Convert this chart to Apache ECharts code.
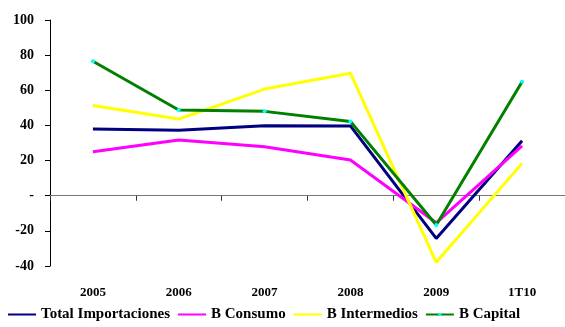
<!DOCTYPE html>
<html>
<head>
<meta charset="utf-8">
<script src="https://cdn.jsdelivr.net/npm/echarts@6/dist/echarts.min.js"></script>
<style>html,body{margin:0;padding:0;background:#fff}#c{width:565px;height:327px}</style>
</head>
<body>
<div id="c"></div>
<script>
const categories = ['2005', '2006', '2007', '2008', '2009', '1T10'];
const totalImportaciones = [38.0, 37.2, 39.8, 39.7, -24.3, 31.3];
const bConsumo = [25.0, 31.7, 27.9, 20.3, -15.4, 28.3];
const bIntermedios = [51.4, 43.6, 60.7, 69.7, -37.9, 18.4];
const bCapital = [76.5, 48.8, 48.0, 42.3, -16.7, 64.9];
const seriesNames = ['Total Importaciones', 'B Consumo', 'B Intermedios', 'B Capital'];

const font = 'Liberation Serif';
const chart = echarts.init(document.getElementById('c'));
function line(name, data, color, marker) {
  return {
    name: name, type: 'line', data: data, xAxisIndex: 0,
    symbol: marker ? 'circle' : 'none',
    symbolSize: marker ? 4 : 0,
    showSymbol: !!marker,
    lineStyle: { color: color, width: 3 },
    itemStyle: { color: marker ? '#00FFFF' : color, borderWidth: 0 },
    emphasis: { disabled: true },
    animation: false
  };
}
chart.setOption({
  animation: false,
  grid: { left: 50, top: 20, width: 515, height: 246, containLabel: false, outerBoundsMode: 'none' },
  legend: {
    left: 7, top: 307, itemWidth: 28, itemHeight: 4, itemGap: 7, padding: 0,
    textStyle: { fontFamily: font, fontWeight: 'bold', fontSize: 15, color: '#000' },
    data: seriesNames.map((n, i) => i < 3 ? { name: n, itemStyle: { opacity: 0 } } : { name: n })
  },
  xAxis: [{
    type: 'category', data: categories, boundaryGap: true, position: 'bottom',
    axisLine: { show: false, onZero: false },
    axisTick: { show: false },
    axisLabel: { margin: 20, fontFamily: font, fontWeight: 'bold', fontSize: 13, color: '#000' },
    splitLine: { show: false }
  }, {
    type: 'category', data: categories, boundaryGap: true, position: 'bottom',
    axisLine: { show: true, onZero: true, lineStyle: { color: '#777', width: 1 } },
    axisTick: { show: true, length: 5, lineStyle: { color: '#333' } },
    axisLabel: { show: false },
    splitLine: { show: false }
  }],
  yAxis: {
    type: 'value', min: -40, max: 100, interval: 20,
    axisLine: { show: true, lineStyle: { color: '#000', width: 1 } },
    axisTick: { show: true, length: 5, lineStyle: { color: '#000' } },
    axisLabel: { margin: 16, fontFamily: font, fontWeight: 'bold', fontSize: 14, color: '#000',
      formatter: v => v === 0 ? '-' : String(v) },
    splitLine: { show: false }
  },
  series: [
    line(seriesNames[0], totalImportaciones, '#000080', false),
    line(seriesNames[1], bConsumo, '#FF00FF', false),
    line(seriesNames[2], bIntermedios, '#FFFF00', false),
    line(seriesNames[3], bCapital, '#008000', true)
  ]
});
</script>
</body>
</html>
